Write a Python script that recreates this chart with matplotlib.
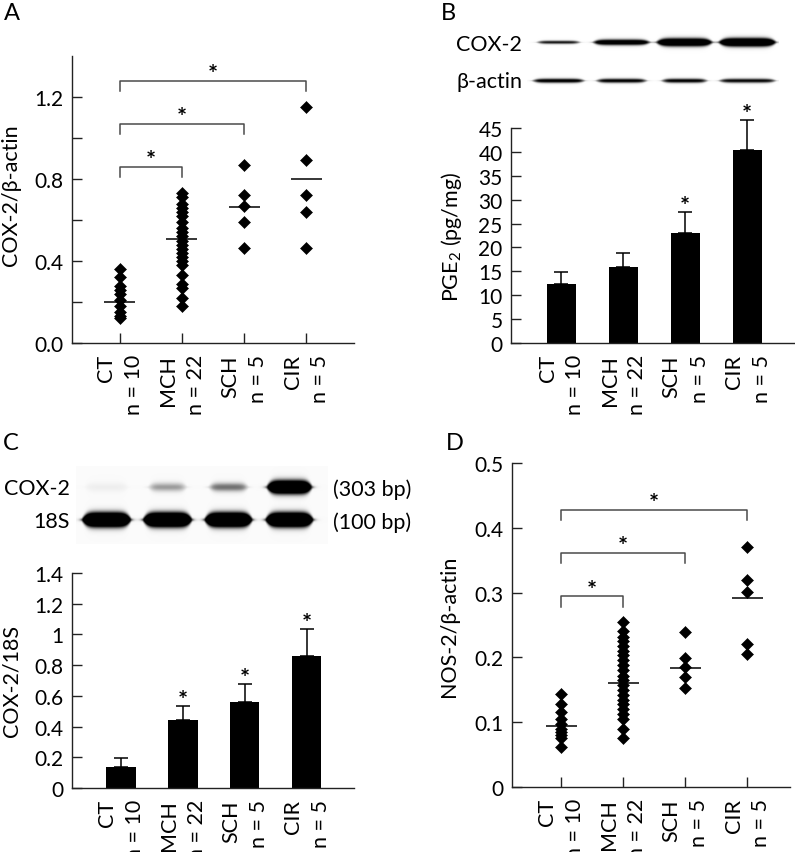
import numpy as np
import matplotlib
matplotlib.use('Agg')
import matplotlib.pyplot as plt

plt.rcParams['font.family'] = ['Lato', 'DejaVu Sans']
plt.rcParams['mathtext.fontset'] = 'custom'
plt.rcParams['mathtext.rm'] = 'Lato'
plt.rcParams['mathtext.it'] = 'Lato:italic'

# ---------------- data ----------------
groups = ['CT', 'MCH', 'SCH', 'CIR']
group_n = ['n = 10', 'n = 22', 'n = 5', 'n = 5']

# Panel A: COX-2/beta-actin (individual values)
a_ct = [0.36, 0.32, 0.28, 0.26, 0.24, 0.21, 0.18, 0.15, 0.13, 0.12]
a_mch = [0.73, 0.71, 0.68, 0.66, 0.64, 0.62, 0.59, 0.56, 0.54, 0.52, 0.50,
         0.48, 0.46, 0.44, 0.42, 0.40, 0.38, 0.33, 0.29, 0.27, 0.22, 0.18]
a_sch = [0.87, 0.72, 0.67, 0.59, 0.465]
a_cir = [1.15, 0.895, 0.72, 0.64, 0.465]
a_means = [0.20, 0.505, 0.665, 0.80]
a_brackets = [(0, 1, 0.86), (0, 2, 1.07), (0, 3, 1.28)]

# Panel B: PGE2 (pg/mg)
b_means = [12.3, 16.0, 23.0, 40.3]
b_err = [2.6, 2.8, 4.5, 6.4]
b_sig = [False, False, True, True]
b_cox2_band = [0.95, 1.3, 1.6, 1.7]
b_actin_band = [1.1, 1.05, 1.05, 1.0]

# Panel C: COX-2/18S
c_means = [0.135, 0.445, 0.562, 0.862]
c_err = [0.058, 0.087, 0.115, 0.171]
c_sig = [False, True, True, True]
c_cox2_band = [0.10, 0.45, 0.60, 2.0]
c_18s_band = [2.2, 2.2, 2.2, 2.2]

# Panel D: NOS-2/beta-actin
d_ct = [0.143, 0.128, 0.116, 0.105, 0.097, 0.090, 0.085, 0.080, 0.075, 0.062]
d_mch = [0.254, 0.240, 0.232, 0.225, 0.218, 0.210, 0.203, 0.196, 0.188, 0.180, 0.172,
         0.165, 0.158, 0.150, 0.142, 0.135, 0.128, 0.120, 0.113, 0.105, 0.090, 0.076]
d_sch = [0.239, 0.199, 0.185, 0.170, 0.153]
d_cir = [0.370, 0.320, 0.301, 0.221, 0.206]
d_means = [0.094, 0.161, 0.183, 0.292]
d_brackets = [(0, 1, 0.294), (0, 2, 0.361), (0, 3, 0.428)]

W, H = 795, 853
fig = plt.figure(figsize=(W / 100, H / 100), dpi=100)

TICK_FS = 15
LAB_FS = 15.5
STAR_FS = 17


def rect(l, t, r, b):
    return [l / W, 1 - b / H, (r - l) / W, (b - t) / H]


def style(ax):
    for s in ['top', 'right']:
        ax.spines[s].set_visible(False)
    for s in ['left', 'bottom']:
        ax.spines[s].set_linewidth(1.0)
        ax.spines[s].set_color('#222222')
    ax.tick_params(axis='both', which='both', direction='in', length=7,
                   width=1.0, color='#222222', labelsize=TICK_FS, pad=6)
    ax.set_xticks(range(len(groups)))
    ax.set_xticklabels([])
    for i, (g, n) in enumerate(zip(groups, group_n)):
        ax.annotate(g, xy=(i - 0.22, 0), xycoords=('data', 'axes fraction'),
                    xytext=(0, -8), textcoords='offset points', rotation=90,
                    ha='center', va='top', fontsize=LAB_FS)
        ax.annotate(n, xy=(i + 0.23, 0), xycoords=('data', 'axes fraction'),
                    xytext=(0, -8), textcoords='offset points', rotation=90,
                    ha='center', va='top', fontsize=LAB_FS)


def star(ax, x, y, dy):
    ax.annotate('*', xy=(x, y), xytext=(0, dy), textcoords='offset points',
                ha='center', va='baseline', fontsize=STAR_FS, fontweight='bold',
                annotation_clip=False)


def scatter_panel(ax, series, means, brackets, leg):
    for i, vals in enumerate(series):
        ax.plot(np.full(len(vals), i), vals, 'D', color='black', ms=6.5,
                mew=0.4, zorder=3)
        ax.hlines(means[i], i - 0.25, i + 0.25, color='black', lw=1.1, zorder=4)
    for (i, j, y) in brackets:
        ax.plot([i, i, j, j], [y - leg, y, y, y - leg], color='#4a4a4a', lw=1.1)
        star(ax, (i + j) / 2, y, -1.0)


def bar_panel(ax, means, errs, sig):
    x = np.arange(len(means))
    ax.bar(x, means, width=0.47, color='black', zorder=2)
    eb = ax.errorbar(x, means, yerr=[np.zeros(len(errs)), errs], fmt='none',
                     ecolor='black', elinewidth=1.1, capsize=5, capthick=1.1,
                     zorder=1)
    for art in eb.lines[1] + eb.lines[2]:
        art.set_clip_on(False)
    for i, s in enumerate(sig):
        if s:
            star(ax, i, means[i] + errs[i], -1.5)


def blot(rect_fig, xlim, rows, bg=0.0):
    ax = fig.add_axes(rect_fig)
    ax.set_axis_off()
    xs = np.linspace(xlim[0], xlim[1], 900)
    ys = np.linspace(0, 1, 240)
    X, Y = np.meshgrid(xs, ys)
    img = np.full(X.shape, bg)
    for (yc, intens, sig, hws) in rows:
        for l, (I, s, hw) in enumerate(zip(intens, sig, hws)):
            d = np.abs(X - l)
            h = 1.0 / (1.0 + np.exp((d - hw) / 0.035))
            taper = np.clip(1 - (d / (hw + 0.05)) ** 6, 0.25, 1)
            v = np.exp(-0.5 * ((Y - yc) / (s * taper)) ** 2)
            img += I * h * v
    ax.imshow(np.clip(img, 0, 1), cmap='Greys', vmin=0, vmax=1,
              extent=(xlim[0], xlim[1], 0, 1), origin='lower', aspect='auto',
              interpolation='bilinear')
    ax.set_xlim(*xlim)
    ax.set_ylim(0, 1)
    return ax


# ---------------- Panel A ----------------
axA = fig.add_axes(rect(72, 57, 354, 344))
style(axA)
axA.set_xlim(-0.77, 3.77)
axA.set_ylim(0, 1.4)
axA.set_yticks([0, 0.4, 0.8, 1.2])
axA.set_yticklabels(['0.0', '0.4', '0.8', '1.2'])
axA.set_yticks([0.2, 0.6, 1.0], minor=True)
scatter_panel(axA, [a_ct, a_mch, a_sch, a_cir], a_means, a_brackets, 0.052)
axA.set_ylabel('COX-2/β-actin', fontsize=LAB_FS)
axA.yaxis.set_label_coords(-0.18, 0.52)

# ---------------- Panel B ----------------
axB = fig.add_axes(rect(511, 129, 795, 344))
style(axB)
axB.set_xlim(-0.81, 3.77)
axB.set_ylim(0, 45)
axB.set_yticks(np.arange(0, 46, 5))
bar_panel(axB, b_means, b_err, b_sig)
axB.set_ylabel('PGE$_\\mathregular{2}$ (pg/mg)', fontsize=LAB_FS)
axB.yaxis.set_label_coords(-0.165, 0.5)

blot(rect(527, 30, 779, 95), (-0.5, 3.5), [
    (0.785, b_cox2_band, [0.02, 0.034, 0.046, 0.048], [0.33, 0.44, 0.43, 0.44]),
    (0.20, b_actin_band, [0.026, 0.026, 0.026, 0.026], [0.40, 0.39, 0.35, 0.44]),
])
fig.text(522 / W, 1 - 45 / H, 'COX-2', ha='right', va='center', fontsize=LAB_FS)
fig.text(522 / W, 1 - 82 / H, 'β-actin', ha='right', va='center', fontsize=LAB_FS)

# ---------------- Panel C ----------------
axC = fig.add_axes(rect(72, 574, 354, 789))
style(axC)
axC.set_xlim(-0.79, 3.76)
axC.set_ylim(0, 1.4)
cticks = [0, 0.2, 0.4, 0.6, 0.8, 1.0, 1.2, 1.4]
axC.set_yticks(cticks)
axC.set_yticklabels(['0', '0.2', '0.4', '0.6', '0.8', '1', '1.2', '1.4'])
bar_panel(axC, c_means, c_err, c_sig)
axC.set_ylabel('COX-2/18S', fontsize=LAB_FS)
axC.yaxis.set_label_coords(-0.18, 0.5)

blot(rect(76, 467, 328, 545), (-0.5, 3.63), [
    (0.73, c_cox2_band, [0.045, 0.045, 0.045, 0.062], [0.33, 0.29, 0.30, 0.35]),
    (0.31, c_18s_band, [0.065, 0.065, 0.065, 0.065], [0.38, 0.38, 0.37, 0.37]),
], bg=0.035)
fig.text(70 / W, 1 - 489 / H, 'COX-2', ha='right', va='center', fontsize=LAB_FS)
fig.text(70 / W, 1 - 522 / H, '18S', ha='right', va='center', fontsize=LAB_FS)
fig.text(333 / W, 1 - 490 / H, '(303 bp)', ha='left', va='center', fontsize=LAB_FS)
fig.text(333 / W, 1 - 523 / H, '(100 bp)', ha='left', va='center', fontsize=LAB_FS)

# ---------------- Panel D ----------------
axD = fig.add_axes(rect(512, 464, 790, 788))
style(axD)
axD.set_xlim(-0.79, 3.69)
axD.set_ylim(0, 0.5)
axD.set_yticks([0, 0.1, 0.2, 0.3, 0.4, 0.5])
axD.set_yticklabels(['0', '0.1', '0.2', '0.3', '0.4', '0.5'])
scatter_panel(axD, [d_ct, d_mch, d_sch, d_cir], d_means, d_brackets, 0.016)
axD.set_ylabel('NOS-2/β-actin', fontsize=LAB_FS)
axD.yaxis.set_label_coords(-0.19, 0.5)

# panel letters
for lx, ly, t in [(4, 14, 'A'), (441, 14, 'B'), (3, 444, 'C'), (446, 444, 'D')]:
    fig.text(lx / W, 1 - ly / H, t, ha='left', va='center', fontsize=17)

fig.savefig('out.png', dpi=100)
